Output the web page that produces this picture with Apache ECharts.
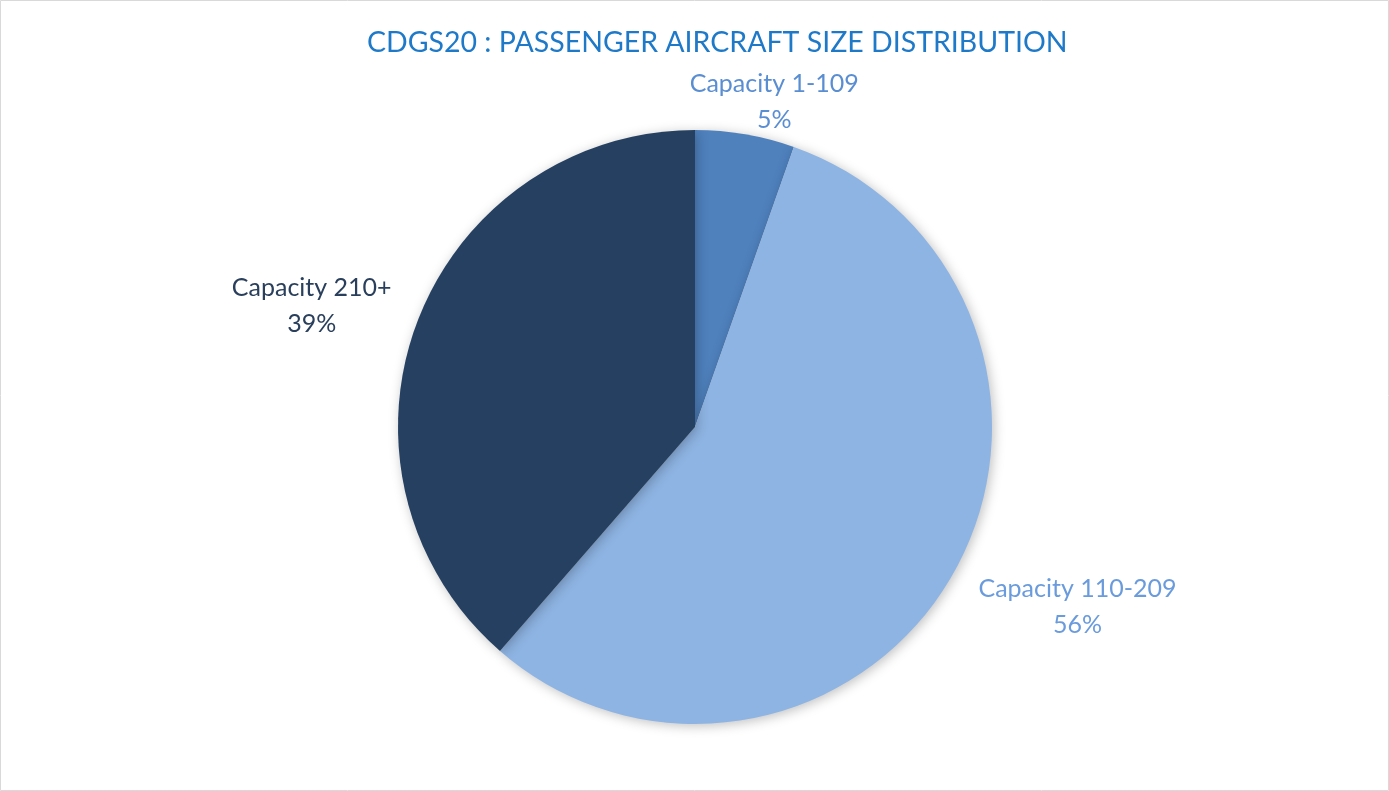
<!DOCTYPE html>
<html><head><meta charset="utf-8">
<script src="https://cdn.jsdelivr.net/npm/echarts@6/dist/echarts.min.js"></script>
<style>html,body{margin:0;padding:0;background:#fff}#c{width:1389px;height:791px}</style>
</head><body><div id="c"></div>
<script>
const categories = ['Capacity 1-109', 'Capacity 110-209', 'Capacity 210+'];
// shares; labels show rounded percentages
const values = [5.4, 56.0, 38.6];
const sliceColors = ['#4F81BD', '#8EB4E3', '#254061'];
const labelColors = ['#5A8ED2', '#6A9BDC', '#2A3F5C'];
// label offsets relative to ECharts' outside label anchor (to match reference placement)
const labelShift = [[19, -3], [95, 15], [-72, -6]];

const chart = echarts.init(document.getElementById('c'));
chart.setOption({
  animation: false,
  title: {
    text: 'CDGS20 : PASSENGER AIRCRAFT SIZE DISTRIBUTION',
    left: 362, top: 23,
    textStyle: { color: '#1E7AC9', fontFamily: 'Lato', fontSize: 28.5, fontWeight: 'normal' }
  },
  graphic: [{ type: 'rect', shape: { x: 0.5, y: 0.5, width: 1388, height: 790 }, style: { fill: 'none', stroke: '#D9D9D9', lineWidth: 1 } }],
  series: [{
    type: 'pie',
    center: [695, 427],
    radius: 297,
    startAngle: 90,
    clockwise: true,
    data: categories.map((c, i) => ({
      name: c, value: values[i],
      itemStyle: { color: sliceColors[i] },
      label: { color: labelColors[i] }
    })),
    itemStyle: { shadowBlur: 12, shadowColor: 'rgba(0,0,0,0.25)', shadowOffsetX: 2, shadowOffsetY: 2 },
    label: {
      show: true, position: 'outside',
      formatter: p => p.name + '\n' + Math.round(p.percent) + '%',
      fontFamily: 'Lato', fontSize: 25, lineHeight: 36
    },
    labelLine: { show: false, length: 30, length2: 0 },
    labelLayout: p => ({ align: 'center', dx: labelShift[p.dataIndex][0], dy: labelShift[p.dataIndex][1] })
  }]
});
</script></body></html>
